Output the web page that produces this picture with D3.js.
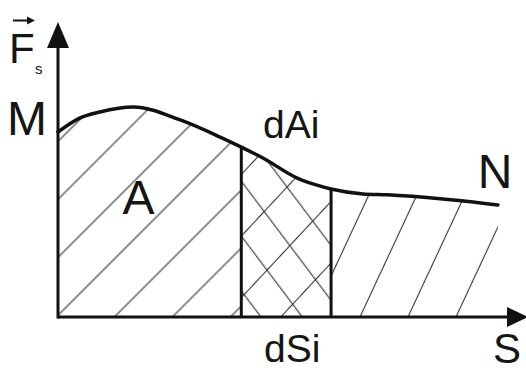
<!DOCTYPE html>
<html>
<head>
<meta charset="utf-8">
<script src="https://cdn.jsdelivr.net/npm/d3@7"></script>
<style>
  html, body { margin: 0; padding: 0; background: #fff; }
  svg { display: block; }
  text { font-family: "Liberation Sans", Arial, Helvetica, sans-serif; fill: #151515; }
</style>
</head>
<body>
<svg id="chart" width="526" height="372"></svg>
<script>
// ---- data ----
const sValues = [0, 0.47, 0.89, 1.6, 2.6, 3.45, 3.9, 4.36, 5.09, 5.51, 5.81, 6.49, 7.0, 8.19, 9.36];
const fValues = [6.27, 6.75, 6.95, 7.12, 6.68, 6.10, 5.76, 5.39, 4.71, 4.47, 4.34, 4.17, 4.14, 4.0, 3.80];
const stripBounds = [3.9, 5.81];          // dS_i
const regionNames = ["A", "dAi", "right"];
const axisMax = [10, 10];                  // S max, F max

// ---- layout ----
const W = 526, H = 372;
const x = d3.scaleLinear().domain([0, axisMax[0]]).range([58, 528]);
const y = d3.scaleLinear().domain([0, axisMax[1]]).range([317, 22]);

const svg = d3.select("#chart");
const defs = svg.append("defs");
const pts = sValues.map((s, i) => ({ s, f: fValues[i] }));

const area = d3.area().x(d => x(d.s)).y0(y(0)).y1(d => y(d.f)).curve(d3.curveMonotoneX);
const line = d3.line().x(d => x(d.s)).y(d => y(d.f)).curve(d3.curveMonotoneX);

defs.append("clipPath").attr("id", "underCurve")
  .append("path").attr("d", area(pts));

// hatch patterns: rotation, perpendicular spacing, phase
function hatch(id, rot, spacing, phase) {
  const p = defs.append("pattern")
    .attr("id", id)
    .attr("patternUnits", "userSpaceOnUse")
    .attr("width", spacing).attr("height", spacing)
    .attr("patternTransform", `rotate(${rot})`);
  p.append("line")
    .attr("x1", phase).attr("y1", -1).attr("x2", phase).attr("y2", spacing + 1)
    .attr("stroke", "#333").attr("stroke-width", 1.1);
}
hatch("hA", 45, 41, 18);
hatch("hMid1", -37, 33, 17.7);
hatch("hMid2", 43, 42, 1.5);
hatch("hR", 25, 43.5, 25.2);

const sMaxCurve = d3.max(sValues);
const hatchG = svg.append("g").attr("clip-path", "url(#underCurve)");
const regions = [
  { a: 0, b: stripBounds[0], fills: ["hA"] },
  { a: stripBounds[0], b: stripBounds[1], fills: ["hMid1", "hMid2"] },
  { a: stripBounds[1], b: sMaxCurve, fills: ["hR"] }
];
regions.forEach(r => {
  r.fills.forEach(fid => {
    hatchG.append("rect")
      .attr("x", x(r.a)).attr("y", y(axisMax[1]))
      .attr("width", x(r.b) - x(r.a)).attr("height", y(0) - y(axisMax[1]))
      .attr("fill", `url(#${fid})`);
  });
});

// strip verticals
stripBounds.forEach(s => {
  const fi = d3.scaleLinear().domain(sValues).range(fValues);
  const idx = sValues.indexOf(s);
  const fv = idx >= 0 ? fValues[idx] : fi(s);
  svg.append("line")
    .attr("x1", x(s)).attr("x2", x(s))
    .attr("y1", y(0)).attr("y2", y(fv))
    .attr("stroke", "#111").attr("stroke-width", 3);
});

// curve
svg.append("path").attr("d", line(pts))
  .attr("fill", "none").attr("stroke", "#111").attr("stroke-width", 3.5)
  .attr("stroke-linecap", "round");

// axes
const ax = svg.append("g").attr("stroke", "#111").attr("stroke-width", 3);
ax.append("line").attr("x1", x(0)).attr("x2", x(axisMax[0]) - 18).attr("y1", y(0)).attr("y2", y(0));
ax.append("line").attr("x1", x(0)).attr("x2", x(0)).attr("y1", y(0) + 1.5).attr("y2", y(axisMax[1]) + 22);
// arrowheads
svg.append("path")
  .attr("d", `M${x(0)},${y(axisMax[1])} L${x(0) - 11},${y(axisMax[1]) + 26} L${x(0) + 11},${y(axisMax[1]) + 26} Z`)
  .attr("fill", "#111");
svg.append("path")
  .attr("d", `M${x(axisMax[0])},${y(0)} L${x(axisMax[0]) - 21},${y(0) - 10} L${x(axisMax[0]) - 21},${y(0) + 10} Z`)
  .attr("fill", "#111");

// labels
svg.append("text").attr("x", 7).attr("y", 135).attr("font-size", 48).text("M");
svg.append("text").attr("x", 138.5).attr("y", 214).attr("text-anchor", "middle").attr("font-size", 48).text("A");
svg.append("text").attr("x", 263).attr("y", 138).attr("font-size", 39).text("dAi");
svg.append("text").attr("x", 495).attr("y", 188).attr("text-anchor", "middle").attr("font-size", 48).text("N");
svg.append("text").attr("x", 264).attr("y", 362).attr("font-size", 39).text("dSi");
svg.append("text").attr("x", 507).attr("y", 363).attr("text-anchor", "middle").attr("font-size", 42).text("S");

// F_s with vector arrow
svg.append("text").attr("x", 9).attr("y", 63).attr("font-size", 42).text("F");
svg.append("text").attr("x", 35).attr("y", 74).attr("font-size", 15).text("s");
svg.append("line").attr("x1", 13).attr("x2", 29).attr("y1", 20.5).attr("y2", 20.5)
  .attr("stroke", "#111").attr("stroke-width", 2);
svg.append("path").attr("d", "M35,20.5 L27,16.5 L27,24.5 Z").attr("fill", "#111");
</script>
</body>
</html>
